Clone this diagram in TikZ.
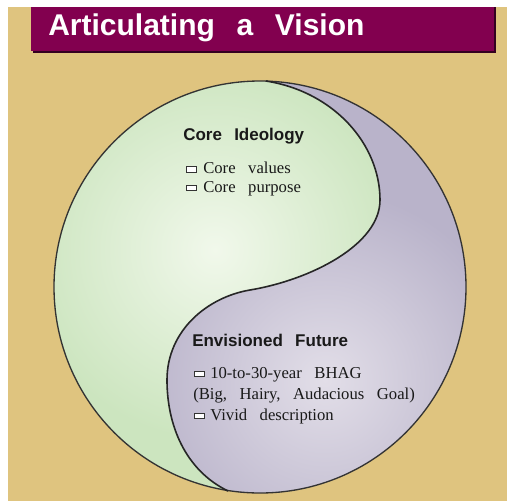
\documentclass[tikz,border=0pt]{standalone}
\usepackage{fontspec}
\setmainfont{Liberation Serif}[WordSpace=3]
\newfontfamily\headfont{Liberation Sans}[WordSpace=2.6]
\newfontfamily\titlefont{Liberation Sans}[WordSpace=2.6]
\definecolor{paper}{HTML}{DFC47F}
\definecolor{banner}{HTML}{82004F}
\definecolor{greenEdge}{HTML}{CCE5BF}
\definecolor{greenMid}{HTML}{F1F8EB}
\definecolor{lilacEdge}{HTML}{B9B3CA}
\definecolor{lilacMid}{HTML}{E2DEE8}
\begin{document}
\begin{tikzpicture}[x=0.75pt,y=-0.75pt,
  heading/.style={anchor=base west, inner sep=0pt, text=black!90,
    font=\headfont\bfseries\fontsize{12.75}{15}\selectfont},
  itemtext/.style={anchor=base west, inner sep=0pt, text=black!90,
    font=\fontsize{12.5}{15}\selectfont},
  bulletbox/.style={draw=black!80, fill=white, line width=0.6pt,
    minimum width=7.5pt, minimum height=4pt, inner sep=0pt},
  divider/.style={line width=1.2pt, draw=black!85}
]
\useasboundingbox (0,0) rectangle (507,501);
% page background
\fill[white] (0,0) rectangle (507,501);
\fill[paper] (8,7) rectangle (507,501);

% title banner with its shadow
\fill[black!60!banner] (33,7) rectangle (496,53);
\fill[banner] (31,7) rectangle (494,51);
\node[anchor=base west, inner sep=0pt, text=white,
  font=\titlefont\bfseries\fontsize{22.5}{25}\selectfont] (title) at (48,35.5) {Articulating a Vision};

% the two halves of the disc
\coordinate (c) at (260,287);
\begin{scope}
  \clip (c) circle[radius=206];
  \fill[lilacEdge] (40,70) rectangle (480,500);
  \shade[inner color=lilacMid, outer color=lilacEdge] (325,380) circle[radius=190];
  \clip (266,81) .. controls (335,92) and (380,145) .. (380,200)
        .. controls (380,245) and (310,280) .. (250,290)
        .. controls (208,297) and (167,330) .. (167,380)
        .. controls (167,425) and (185,470) .. (228,491)
        -- (228,560) -- (-10,560) -- (-10,0) -- (266,0) -- cycle;
  \fill[greenEdge] (40,70) rectangle (480,500);
  \shade[inner color=greenMid, outer color=greenEdge] (215,250) circle[radius=190];
\end{scope}
\draw[line width=1pt, draw=black!80] (c) circle[radius=206];
\draw[divider] (266,81) .. controls (335,92) and (380,145) .. (380,200)
        .. controls (380,245) and (310,280) .. (250,290)
        .. controls (208,297) and (167,330) .. (167,380)
        .. controls (167,425) and (185,470) .. (228,491);

% upper half: core ideology
\node[heading] (core) at (183,140) {Core Ideology};
\node[bulletbox] (b1) at (191,169.5) {};
\node[itemtext] (values) at (203,173) {Core values};
\node[bulletbox] (b2) at (191,188) {};
\node[itemtext] (purpose) at (203,192) {Core purpose};

% lower half: envisioned future
\node[heading] (future) at (192,346) {Envisioned Future};
\node[bulletbox] (b3) at (199,374) {};
\node[itemtext] (bhag) at (210,378) {10-to-30-year BHAG};
\node[itemtext] (goal) at (193,399) {(Big, Hairy, Audacious Goal)};
\node[bulletbox] (b4) at (199,416) {};
\node[itemtext] (vivid) at (210,420) {Vivid description};
\end{tikzpicture}
\end{document}
